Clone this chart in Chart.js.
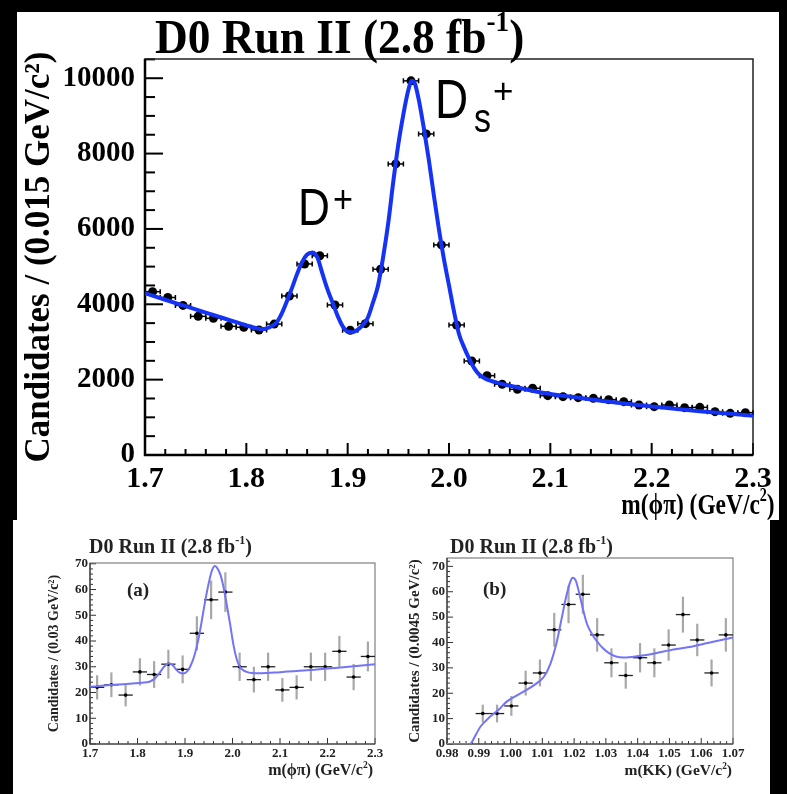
<!DOCTYPE html>
<html><head><meta charset="utf-8">
<script src="https://cdn.jsdelivr.net/npm/chart.js@4.4.1/dist/chart.umd.min.js"></script>
<style>
html,body{margin:0;padding:0;background:#000;width:787px;height:794px;overflow:hidden;position:relative}
.panel{position:absolute;background:#fff}
canvas{position:absolute}
.txt{position:absolute;white-space:nowrap;font-family:'Liberation Serif',serif;font-weight:bold;color:#000;line-height:1;transform-origin:0 0}
.sans{font-family:'Liberation Sans',Arial,sans-serif;font-weight:normal}
#lower{position:absolute;left:0;top:0;width:787px;height:794px;filter:blur(0.5px)}
#lower .txt{color:#222}
</style></head><body>
<div class="panel" style="left:17px;top:12px;width:762px;height:508px"></div>
<div class="panel" style="left:13px;top:520px;width:757px;height:274px"></div>
<canvas id="main" width="762" height="508" style="left:17px;top:12px"></canvas>
<div class="txt" style="left:155px;top:13px;font-size:48px;transform:scaleX(0.945)">D0 Run II (2.8 fb<span style="font-size:60%;position:relative;top:-0.75em">-1</span>)</div>
<div class="txt" style="right:12px;top:489px;font-size:30px;transform-origin:100% 0;transform:scaleX(0.78)">m(ϕπ) (GeV/c<span style="font-size:60%;position:relative;top:-0.7em">2</span>)</div>
<div class="txt sans" style="left:298px;top:181px;font-size:52px;transform:scaleX(0.85)">D</div>
<div class="txt sans" style="left:333px;top:180px;font-size:38px;transform:scaleX(0.9)">+</div>
<div class="txt sans" style="left:435px;top:71px;font-size:56px;transform:scaleX(0.82)">D</div>
<div class="txt sans" style="left:474px;top:98px;font-size:40px;transform:scaleX(0.85)">s</div>
<div class="txt sans" style="left:493px;top:73px;font-size:35px">+</div>
<div id="lower">
<canvas id="ca" width="380" height="274" style="left:13px;top:520px"></canvas>
<canvas id="cb" width="377" height="274" style="left:393px;top:520px"></canvas>
<div class="txt" style="left:89px;top:536px;font-size:20px">D0 Run II (2.8 fb<span style="font-size:60%;position:relative;top:-0.75em">-1</span>)</div>
<div class="txt" style="left:450px;top:536px;font-size:20px">D0 Run II (2.8 fb<span style="font-size:60%;position:relative;top:-0.75em">-1</span>)</div>
<div class="txt" style="left:127px;top:580px;font-size:19px">(a)</div>
<div class="txt" style="left:483px;top:579px;font-size:19px">(b)</div>
<div class="txt" style="right:414px;top:762px;font-size:16px">m(ϕπ) (GeV/c<span style="font-size:60%;position:relative;top:-0.7em">2</span>)</div>
<div class="txt" style="right:55px;top:762px;font-size:15.5px">m(KK) (GeV/c<span style="font-size:60%;position:relative;top:-0.7em">2</span>)</div>
</div>
<script>
// ===================== DATA =====================
// Main plot: m(phi pi), bins of 0.015 GeV/c^2
const mainBinCenters = [1.7075,1.7225,1.7375,1.7525,1.7675,1.7825,1.7975,1.8125,1.8275,1.8425,1.8575,1.8725,1.8875,1.9025,1.9175,1.9325,1.9475,1.9625,1.9775,1.9925,2.0075,2.0225,2.0375,2.0525,2.0675,2.0825,2.0975,2.1125,2.1275,2.1425,2.1575,2.1725,2.1875,2.2025,2.2175,2.2325,2.2475,2.2625,2.2775,2.2925];
const mainCounts = [4335,4180,3970,3680,3628,3415,3390,3318,3475,4221,5070,5288,3982,3310,3485,4930,7725,9930,8521,5575,3451,2495,2105,1877,1744,1771,1575,1549,1522,1504,1469,1416,1327,1283,1327,1257,1265,1150,1106,1124];
const mainBinHalfWidth = 0.0075;
const mainFitMass = [1.700,1.720,1.740,1.760,1.780,1.800,1.810,1.815,1.820,1.825,1.830,1.835,1.840,1.845,1.850,1.855,1.860,1.865,1.870,1.875,1.880,1.885,1.890,1.895,1.900,1.905,1.910,1.915,1.920,1.925,1.930,1.935,1.940,1.945,1.950,1.955,1.960,1.963,1.966,1.970,1.975,1.980,1.985,1.990,1.995,2.000,2.005,2.010,2.015,2.020,2.025,2.030,2.035,2.040,2.050,2.060,2.070,2.080,2.100,2.125,2.150,2.175,2.200,2.225,2.250,2.275,2.300];
const mainFitValue = [4295,4120,3950,3780,3610,3440,3365,3340,3360,3420,3520,3760,4080,4430,4800,5120,5320,5375,5250,4820,4400,4050,3700,3420,3270,3260,3330,3450,3650,4050,4500,5250,6150,7250,8250,9050,9700,9930,9880,9450,8700,7850,6900,6000,5200,4500,3800,3200,2850,2550,2300,2130,2040,1980,1900,1840,1780,1720,1620,1530,1440,1360,1290,1220,1155,1100,1044];
const mainXTicks = [1.7,1.8,1.9,2.0,2.1,2.2,2.3];
const mainYTicks = [0,2000,4000,6000,8000,10000];

// Inset (a): m(phi pi), bins of 0.03 GeV/c^2
const aBinCenters = [1.715,1.745,1.775,1.805,1.835,1.865,1.895,1.925,1.955,1.985,2.015,2.045,2.075,2.105,2.135,2.165,2.195,2.225,2.255,2.285];
const aCounts = [22,23,19,28,27,31,29,43,56,59,30,25,30,21,22,30,30,36,26,34];
const aErrors = [4.7,4.8,4.4,5.3,5.2,5.6,5.4,6.6,7.5,7.7,5.5,5.0,5.5,4.6,4.7,5.5,5.5,6.0,5.1,5.8];
const aBinHalfWidth = 0.015;
const aFitMass = [1.70,1.73,1.76,1.79,1.81,1.825,1.835,1.845,1.855,1.865,1.873,1.882,1.89,1.897,1.905,1.912,1.92,1.928,1.935,1.942,1.95,1.957,1.963,1.969,1.975,1.981,1.988,1.995,2.002,2.008,2.014,2.02,2.03,2.04,2.06,2.10,2.15,2.20,2.25,2.30];
const aFitValue = [22.2,22.7,23.1,23.5,23.8,24.2,25.2,27.2,29.8,31.3,30.8,28.8,27.6,27.4,28.3,30.5,34.5,40.5,47.5,55.0,62.5,67.5,69.1,68.0,65.5,61.0,54.0,46.5,38.5,33.5,30.5,29.0,28.0,27.6,27.5,27.9,28.5,29.3,30.1,31.0];
const aXTicks = [1.7,1.8,1.9,2.0,2.1,2.2,2.3];
const aYTicks = [0,10,20,30,40,50,60,70];

// Inset (b): m(KK), bins of 0.0045 GeV/c^2
const bBinCenters = [0.99125,0.99575,1.00025,1.00475,1.00925,1.01375,1.01825,1.02275,1.02725,1.03175,1.03625,1.04075,1.04525,1.04975,1.05425,1.05875,1.06325,1.06775];
const bCounts = [12,12,15,24,28,45,55,59,43,32,27,34,32,39,51,41,28,43];
const bErrors = [3.5,3.5,3.9,4.9,5.3,6.7,7.4,7.7,6.6,5.7,5.2,5.8,5.7,6.2,7.1,6.4,5.3,6.6];
const bBinHalfWidth = 0.00225;
const bFitMass = [0.980,0.9872,0.989,0.9905,0.9936,0.9965,0.9988,1.002,1.005,1.0083,1.0105,1.0125,1.0145,1.016,1.0175,1.0188,1.0196,1.0205,1.0215,1.0227,1.024,1.0258,1.0275,1.029,1.031,1.0332,1.0355,1.0373,1.041,1.0457,1.05,1.0562,1.062,1.07];
const bFitValue = [0,0,3.5,6.8,10.8,13.8,16.7,19.2,21.3,24.0,26.5,31.5,40.0,49.0,58.0,64.0,65.5,64.5,60.0,53.6,47.5,43.0,40.0,37.8,35.8,34.5,34.1,34.2,34.8,35.8,36.9,38.2,39.8,42.0];
const bXTicks = [0.98,0.99,1.00,1.01,1.02,1.03,1.04,1.05,1.06,1.07];
const bYTicks = [0,10,20,30,40,50,60,70];

// ===================== PLUGINS =====================
const rootStyle = {
  id: 'rootStyle',
  beforeDatasetsDraw(chart, args, o) {
    const {ctx, chartArea: a, scales: {x, y}} = chart;
    ctx.save();
    ctx.strokeStyle = o.color;
    ctx.lineWidth = o.tickWidth;
    const nx = Math.round((x.max - x.min) / o.xMinor);
    for (let i = 0; i <= nx; i++) {
      const v = x.min + i * o.xMinor;
      const major = Math.abs(Math.round(v / o.xMajor) * o.xMajor - v) < o.xMinor * 0.01;
      const px = x.getPixelForValue(v);
      ctx.beginPath(); ctx.moveTo(px, a.bottom); ctx.lineTo(px, a.bottom - (major ? o.xMajorLen : o.xMinorLen)); ctx.stroke();
    }
    const ny = Math.floor((y.max - y.min) / o.yMinor + 1e-6);
    for (let i = 0; i <= ny; i++) {
      const v = y.min + i * o.yMinor;
      const major = Math.abs(Math.round(v / o.yMajor) * o.yMajor - v) < o.yMinor * 0.01;
      const py = y.getPixelForValue(v);
      ctx.beginPath(); ctx.moveTo(a.left, py); ctx.lineTo(a.left + (major ? o.yMajorLen : o.yMinorLen), py); ctx.stroke();
    }
    ctx.lineWidth = o.frameWidth;
    ctx.strokeStyle = o.frameColor;
    ctx.strokeRect(a.left, a.top, a.width, a.height);
    ctx.lineWidth = o.axisWidth;
    ctx.strokeStyle = o.color;
    ctx.beginPath(); ctx.moveTo(a.left, a.top); ctx.lineTo(a.left, a.bottom); ctx.lineTo(a.right, a.bottom); ctx.stroke();
    // error bars
    chart.data.datasets.forEach((ds, di) => {
      if (ds.errX === undefined) return;
      const meta = chart.getDatasetMeta(di);
      meta.data.forEach((el, i) => {
        const d = ds.data[i];
        const x0 = x.getPixelForValue(d.x - ds.errX), x1 = x.getPixelForValue(d.x + ds.errX);
        if (ds.errY) {
          ctx.strokeStyle = ds.errYColor; ctx.lineWidth = ds.errYWidth;
          ctx.beginPath();
          ctx.moveTo(el.x, y.getPixelForValue(d.y - ds.errY[i]));
          ctx.lineTo(el.x, y.getPixelForValue(d.y + ds.errY[i]));
          ctx.stroke();
        }
        ctx.strokeStyle = ds.errXColor; ctx.lineWidth = ds.errXWidth;
        ctx.beginPath(); ctx.moveTo(x0, el.y); ctx.lineTo(x1, el.y); ctx.stroke();
        if (ds.capLen) {
          ctx.beginPath();
          ctx.moveTo(x0, el.y - ds.capLen); ctx.lineTo(x0, el.y + ds.capLen);
          ctx.moveTo(x1, el.y - ds.capLen); ctx.lineTo(x1, el.y + ds.capLen);
          ctx.stroke();
        }
      });
    });
    ctx.restore();
  }
};

const serif = 'Liberation Serif, Times New Roman, serif';

function makeChart(id, cfg) {
  return new Chart(document.getElementById(id), {
    type: 'scatter',
    data: {
      datasets: [
        { data: cfg.fitMass.map((m, i) => ({x: m, y: cfg.fitValue[i]})), showLine: true,
          borderColor: cfg.fitColor, borderWidth: cfg.fitWidth, pointRadius: 0,
          cubicInterpolationMode: 'monotone', order: 0 },
        { data: cfg.centers.map((m, i) => ({x: m, y: cfg.counts[i]})),
          pointRadius: cfg.pointRadius, pointBackgroundColor: '#000', pointBorderWidth: 0,
          errX: cfg.binHalf, errY: cfg.errors, errXColor: cfg.errXColor, errXWidth: cfg.errXWidth,
          errYColor: cfg.errYColor, errYWidth: cfg.errYWidth, capLen: cfg.capLen, order: 1 }
      ]
    },
    options: {
      responsive: false, animation: false, devicePixelRatio: 1,
      layout: { padding: { top: cfg.padTop, right: cfg.padRight, left: 0, bottom: 0 } },
      plugins: { legend: {display: false}, tooltip: {enabled: false}, rootStyle: cfg.style },
      scales: {
        x: { type: 'linear', min: cfg.xMin, max: cfg.xMax,
             afterFit: s => { s.height = cfg.xHeight; },
             afterBuildTicks: s => { s.ticks = cfg.xTicks.map(v => ({value: v})); },
             grid: {display: false, drawTicks: false}, border: {display: false},
             ticks: { autoSkip: false, maxRotation: 0, padding: cfg.xPad, color: cfg.textColor,
                      font: {family: serif, weight: 'bold', size: cfg.xFont},
                      callback: v => v.toFixed(cfg.xDigits) } },
        y: { min: 0, max: cfg.yMax,
             afterFit: s => { s.width = cfg.yWidth; },
             afterBuildTicks: s => { s.ticks = cfg.yTicks.map(v => ({value: v})); },
             grid: {display: false, drawTicks: false}, border: {display: false},
             ticks: { padding: cfg.yPad, color: cfg.textColor,
                      font: {family: serif, weight: 'bold', size: cfg.yFont},
                      callback: v => String(v) },
             title: { display: true, text: cfg.yTitle, color: cfg.textColor,
                      font: {family: serif, weight: 'bold', size: cfg.yTitleFont},
                      padding: {top: cfg.yTitlePad, bottom: 0} } }
      }
    },
    plugins: [rootStyle]
  });
}

makeChart('main', {
  fitMass: mainFitMass, fitValue: mainFitValue, fitColor: '#1533f5', fitWidth: 4,
  centers: mainBinCenters, counts: mainCounts, errors: null, binHalf: mainBinHalfWidth,
  pointRadius: 4.5, errXColor: '#000', errXWidth: 1.5, errYColor: '#000', errYWidth: 1.5, capLen: 2.5,
  padTop: 47, padRight: 26, xMin: 1.7, xMax: 2.3, xHeight: 65, xTicks: mainXTicks, xPad: 6, xFont: 30, xDigits: 1,
  yMax: 10510, yWidth: 128, yTicks: mainYTicks, yPad: 10, yFont: 29, textColor: '#000',
  yTitle: 'Candidates / (0.015 GeV/c²)', yTitleFont: 35, yTitlePad: 2,
  style: { color: '#000', frameColor: '#222', tickWidth: 2, frameWidth: 1.5, axisWidth: 2.5,
           xMinor: 0.02, xMajor: 0.1, yMinor: 500, yMajor: 2000,
           xMajorLen: 12, xMinorLen: 6, yMajorLen: 18, yMinorLen: 10 }
});

makeChart('ca', {
  fitMass: aFitMass, fitValue: aFitValue, fitColor: '#7474f6', fitWidth: 2,
  centers: aBinCenters, counts: aCounts, errors: aErrors, binHalf: aBinHalfWidth,
  pointRadius: 1.8, errXColor: '#222', errXWidth: 1.3, errYColor: '#a8a8a8', errYWidth: 2.2, capLen: 0,
  padTop: 43, padRight: 18, xMin: 1.7, xMax: 2.3, xHeight: 50, xTicks: aXTicks, xPad: 2, xFont: 13, xDigits: 1,
  yMax: 70.3, yWidth: 77, yTicks: aYTicks, yPad: 2, yFont: 13, textColor: '#222',
  yTitle: 'Candidates / (0.03 GeV/c²)', yTitleFont: 14, yTitlePad: 33,
  style: { color: '#333', frameColor: '#666', tickWidth: 1, frameWidth: 1, axisWidth: 1.2,
           xMinor: 0.02, xMajor: 0.1, yMinor: 2, yMajor: 10,
           xMajorLen: 6, xMinorLen: 3, yMajorLen: 6, yMinorLen: 3 }
});

makeChart('cb', {
  fitMass: bFitMass, fitValue: bFitValue, fitColor: '#7474f6', fitWidth: 2,
  centers: bBinCenters, counts: bCounts, errors: bErrors, binHalf: bBinHalfWidth,
  pointRadius: 1.8, errXColor: '#222', errXWidth: 1.3, errYColor: '#a8a8a8', errYWidth: 2.2, capLen: 0,
  padTop: 38, padRight: 37, xMin: 0.98, xMax: 1.07, xHeight: 50, xTicks: bXTicks, xPad: 2, xFont: 13, xDigits: 2,
  yMax: 73.3, yWidth: 54, yTicks: bYTicks, yPad: 2, yFont: 13, textColor: '#222',
  yTitle: 'Candidates / (0.0045 GeV/c²)', yTitleFont: 15, yTitlePad: 13,
  style: { color: '#333', frameColor: '#666', tickWidth: 1, frameWidth: 1, axisWidth: 1.2,
           xMinor: 0.002, xMajor: 0.01, yMinor: 2, yMajor: 10,
           xMajorLen: 6, xMinorLen: 3, yMajorLen: 6, yMinorLen: 3 }
});
</script>
</body></html>
